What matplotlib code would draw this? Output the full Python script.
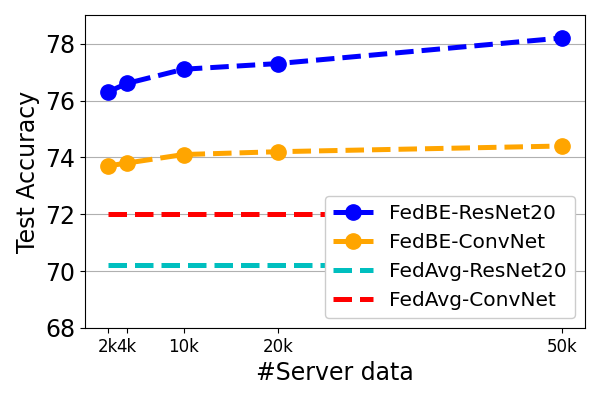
import matplotlib
matplotlib.use("Agg")
import matplotlib.pyplot as plt

x_k = [2, 4, 10, 20, 50]
x_labels = ["2k", "4k", "10k", "20k", "50k"]
fedbe_resnet = [76.3, 76.6, 77.1, 77.3, 78.2]
fedbe_convnet = [73.7, 73.8, 74.1, 74.2, 74.4]
fedavg_resnet = [70.2, 70.2, 70.2, 70.2, 70.2]
fedavg_convnet = [72.0, 72.0, 72.0, 72.0, 72.0]

fig, ax = plt.subplots(figsize=(6, 4), dpi=100)
ax.plot(x_k, fedbe_resnet, "o--", color="b", lw=3.6, ms=11, label="FedBE-ResNet20")
ax.plot(x_k, fedbe_convnet, "o--", color="orange", lw=3.6, ms=11, label="FedBE-ConvNet")
ax.plot(x_k, fedavg_resnet, "--", color="c", lw=3.6, label="FedAvg-ResNet20")
ax.plot(x_k, fedavg_convnet, "--", color="r", lw=3.6, label="FedAvg-ConvNet")

ax.set_xticks(x_k)
ax.set_xticklabels(x_labels, fontsize=12)
ax.set_ylim(68, 79)
ax.set_yticks([68, 70, 72, 74, 76, 78])
ax.tick_params(axis="y", labelsize=17)
ax.yaxis.grid(True, color="#b0b0b0")
ax.set_axisbelow(True)
ax.set_xlabel("#Server data", fontsize=17)
ax.set_ylabel("Test Accuracy", fontsize=17)
ax.legend(loc="lower right", fontsize=14.5, framealpha=1)
fig.subplots_adjust(left=0.142, right=0.975, top=0.962, bottom=0.18)
fig.savefig("out.png")
